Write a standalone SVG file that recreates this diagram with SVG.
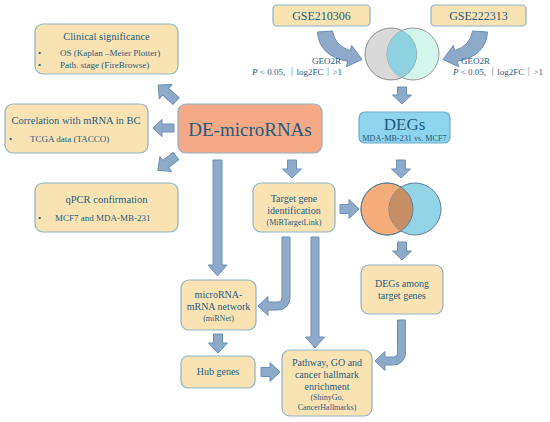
<svg xmlns="http://www.w3.org/2000/svg" width="550" height="422" viewBox="0 0 550 422">
<style>
  text { font-family: "Liberation Serif", "Noto Sans CJK SC", serif; fill: #1f5c80; }
  .box { fill: #fae3b3; stroke: #8db3c7; stroke-width: 1.2; }
  .t { font-size: 10.5px; text-anchor: middle; }
  .m { font-size: 10px; text-anchor: middle; }
  .s { font-size: 8px; text-anchor: middle; }
  .b { font-size: 9px; }
  .arr { fill: #8eaacb; stroke: #6c8fb3; stroke-width: 1; stroke-linejoin: round; }
</style>
<defs>
  <clipPath id="c1"><circle cx="391" cy="54" r="26"/></clipPath>
  <clipPath id="c2"><circle cx="387" cy="209" r="26"/></clipPath>
</defs>
<rect width="550" height="422" fill="#ffffff"/>

<g id="connectors">
  <path class="arr" d="M317.5,32 L332.5,31 Q334.5,45.5 350.3,50.7 L351.6,45.4 L362,59.5 L346.4,66.7 L347.7,61.3 Q319,56 317.5,32 Z"/>
  <path class="arr" d="M487.5,32 L472.5,31 Q470.5,45.5 454.7,50.7 L453.4,45.4 L443,59.5 L458.6,66.7 L457.3,61.3 Q486,56 487.5,32 Z"/>
  <path class="arr" d="M397.5,87 H406.5 V95 H411.5 L402,104 L392.5,95 H397.5 Z"/>
  <path class="arr" d="M396.5,160 H405.5 V169 H410.5 L401,178 L391.5,169 H396.5 Z"/>
  <path class="arr" d="M397.5,242 H406.5 V251 H411.5 L402,260 L392.5,251 H397.5 Z"/>
  <path class="arr" d="M287.5,160 H296.5 V169 H301.5 L292,178 L282.5,169 H287.5 Z"/>
  <path class="arr" d="M213.5,334 H222.5 V343 H227.5 L218,353 L208.5,343 H213.5 Z"/>
  <path class="arr" d="M213,160 H222 V265 H227 L217.5,276 L208,265 H213 Z"/>
  <path class="arr" d="M311,237 H319 V337 H324.5 L315,348 L305.5,337 H311 Z"/>
  <path class="arr" d="M340,204.5 V213.5 H349 V218.5 L359,209 L349,199.5 V204.5 Z"/>
  <path class="arr" d="M261,367.5 V376.5 H270 V381.5 L280,372 L270,362.5 V367.5 Z"/>
  <path class="arr" d="M282,237 H290 V298 A12,12 0 0 1 278,310 H268 V315.5 L258,306 L268,296.5 V302 H278 A4,4 0 0 0 282,298 Z"/>
  <path class="arr" d="M397.5,320 H405.5 V353 A12,12 0 0 1 393.5,365 H385 V370.5 L375,361 L385,351.5 V357 H393.5 A4,4 0 0 0 397.5,353 Z"/>
  <path class="arr" transform="translate(176,101) rotate(-138)" d="M0,-4.5 H14 V-9.5 L24,0 L14,9.5 V4.5 H0 Z"/>
  <path class="arr" transform="translate(174,128) rotate(180)" d="M0,-4 H12 V-8.5 L21,0 L12,8.5 V4 H0 Z"/>
  <path class="arr" transform="translate(176,156) rotate(142)" d="M0,-4.5 H13 V-9.5 L23,0 L13,9.5 V4.5 H0 Z"/>
</g>

<g id="gse210306">
  <rect class="box" x="273" y="5" width="97" height="21" rx="4"/>
  <text x="321.5" y="20" font-size="12" text-anchor="middle">GSE210306</text>
</g>
<g id="gse222313">
  <rect class="box" x="431" y="5" width="95" height="21" rx="4"/>
  <text x="478.5" y="20" font-size="12" text-anchor="middle">GSE222313</text>
</g>
<g id="geo2r-left">
  <text x="312" y="64" font-size="9">GEO2R</text>
  <text x="342" y="75" font-size="9" text-anchor="end"><tspan font-style="italic">P</tspan> &lt; 0.05, ｜log2FC｜&gt;1</text>
</g>
<g id="geo2r-right">
  <text x="461" y="64" font-size="9">GEO2R</text>
  <text x="453" y="75" font-size="9"><tspan font-style="italic">P</tspan> &lt; 0.05, ｜log2FC｜&gt;1</text>
</g>

<g id="venn1">
  <circle cx="391" cy="54" r="26" fill="#d9d9d9" stroke="#9a9a9a" stroke-width="1"/>
  <circle cx="413" cy="54" r="26" fill="#d4f5ec" stroke="#9a9a9a" stroke-width="1"/>
  <circle cx="413" cy="54" r="26" fill="#8ed1e0" clip-path="url(#c1)"/>
  <circle cx="391" cy="54" r="26" fill="none" stroke="#9a9a9a" stroke-width="1" clip-path="url(#c1)"/>
</g>

<g id="degs">
  <rect x="359" y="112" width="91" height="31" rx="6" fill="#8fd4ee" stroke="#6fa9c8" stroke-width="1.2"/>
  <text x="404.5" y="130" font-size="17" text-anchor="middle">DEGs</text>
  <text x="404.5" y="141" font-size="8.2" text-anchor="middle">MDA-MB-231 vs. MCF7</text>
</g>

<g id="venn2">
  <circle cx="387" cy="209" r="26" fill="#f4ac78" stroke="#5f7f95" stroke-width="1"/>
  <circle cx="415" cy="209" r="26" fill="#92d4e6" stroke="#5f7f95" stroke-width="1"/>
  <circle cx="415" cy="209" r="26" fill="#c58e64" clip-path="url(#c2)"/>
  <circle cx="387" cy="209" r="26" fill="none" stroke="#5f7f95" stroke-width="1"/>
</g>

<g id="clinical">
  <rect class="box" x="35" y="24" width="143" height="50" rx="8"/>
  <text class="t" x="106.5" y="40">Clinical significance</text>
  <text class="b" x="38" y="56">•</text>
  <text class="b" x="60" y="56">OS (Kaplan –Meier Plotter)</text>
  <text class="b" x="38" y="68">•</text>
  <text class="b" x="60" y="68">Path. stage (FireBrowse)</text>
</g>

<g id="correlation">
  <rect class="box" x="5" y="104" width="143" height="49" rx="8"/>
  <text class="t" x="76" y="124">Correlation with mRNA in BC</text>
  <text class="b" x="9" y="142">•</text>
  <text class="b" x="30" y="142">TCGA data (TACCO)</text>
</g>

<g id="qpcr">
  <rect class="box" x="35" y="183" width="143" height="49" rx="8"/>
  <text class="t" x="106.5" y="203">qPCR confirmation</text>
  <text class="b" x="38" y="221">•</text>
  <text class="b" x="55" y="221">MCF7 and MDA-MB-231</text>
</g>

<g id="de-micrornas">
  <rect x="178" y="104" width="144" height="49" rx="8" fill="#f3a886" stroke="#8db3c7" stroke-width="1.2"/>
  <text x="250" y="136" font-size="19" text-anchor="middle">DE-microRNAs</text>
</g>

<g id="target">
  <rect class="box" x="253" y="183" width="82" height="49" rx="8"/>
  <text class="m" x="294" y="202">Target gene</text>
  <text class="m" x="294" y="214">identification</text>
  <text class="s" x="294" y="225">(MiRTargetLink)</text>
</g>

<g id="network">
  <rect class="box" x="181" y="280" width="75" height="50" rx="8"/>
  <text class="m" x="218.5" y="298">microRNA-</text>
  <text class="m" x="218.5" y="310">mRNA network</text>
  <text class="s" x="218.5" y="321">(miRNet)</text>
</g>

<g id="degs-among">
  <rect class="box" x="361" y="265" width="82" height="49" rx="8"/>
  <text class="m" x="402" y="287">DEGs among</text>
  <text class="m" x="402" y="299">target genes</text>
</g>

<g id="hub">
  <rect class="box" x="181" y="356" width="74" height="32" rx="7"/>
  <text class="m" x="218" y="375">Hub genes</text>
</g>

<g id="pathway">
  <rect class="box" x="282" y="350" width="90" height="66" rx="8"/>
  <text class="m" x="327" y="366">Pathway, GO and</text>
  <text class="m" x="327" y="378">cancer hallmark</text>
  <text class="m" x="327" y="390">enrichment</text>
  <text class="s" x="327" y="400">(ShinyGo,</text>
  <text class="s" x="327" y="410">CancerHallmarks)</text>
</g>
</svg>
